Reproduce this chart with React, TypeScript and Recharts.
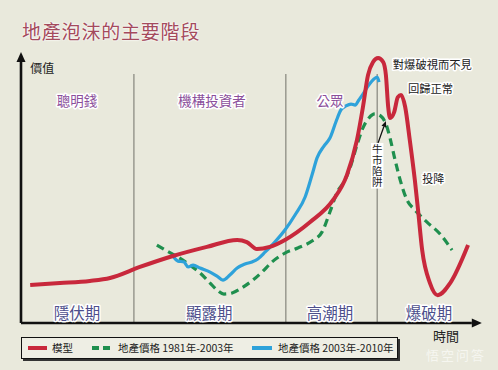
import React from 'react';
import { LineChart, Line, XAxis, YAxis, ReferenceLine, ReferenceDot } from 'recharts';

const FONT = "'Noto Sans CJK TC', 'Noto Sans CJK SC', sans-serif";
const BG = '#e9e9dc';
const RED = '#c8283c';
const GREEN = '#1f8f4e';
const BLUE = '#2ea2da';

// model curve (time 0-100, value 0-100)
const modelT = [2.0, 8.5, 15.0, 19.4, 25.9, 33.1, 40.5, 47.1, 49.2, 51.4, 54.2, 57.5, 63.0, 68.0, 71.0, 73.2, 74.5, 75.6, 76.7, 77.8, 78.9, 79.5, 80.0, 80.4, 81.3, 82.1, 82.8, 83.7, 84.7, 85.8, 86.5, 87.4, 89.1, 90.8, 93.5, 97.4];
const modelV = [14.2, 14.9, 15.7, 16.8, 20.9, 25.0, 28.4, 31.0, 30.2, 27.6, 28.4, 31.0, 37.7, 45.9, 55.2, 68.3, 80.6, 92.5, 97.4, 98.9, 97.4, 92.5, 80.6, 76.5, 78.7, 84.3, 85.1, 80.6, 68.3, 53.4, 42.2, 27.2, 14.9, 10.4, 14.9, 29.1];

// 地產價格 1981年-2003年
const greenT = [29.6, 31.8, 34.2, 36.8, 39.0, 41.2, 42.7, 44.2, 46.0, 48.1, 50.3, 52.5, 54.7, 57.5, 60.3, 63.4, 65.6, 67.3, 68.8, 70.6, 71.9, 73.2, 74.5, 75.8, 77.1, 78.4, 79.5, 80.4, 81.5, 82.6, 84.1, 85.8, 88.4, 91.3, 93.9];
const greenV = [29.1, 26.9, 24.6, 21.6, 18.7, 14.9, 12.3, 10.8, 11.2, 13.1, 15.7, 19.0, 22.8, 26.1, 28.0, 30.6, 34.0, 41.4, 48.5, 53.4, 59.0, 66.4, 72.8, 76.5, 78.0, 77.2, 74.3, 69.0, 60.8, 53.4, 45.9, 42.2, 37.7, 33.2, 27.2];

// 地產價格 2003年-2010年
const blueT = [33.1, 34.2, 35.5, 36.4, 37.5, 39.0, 41.2, 42.7, 44.0, 45.5, 47.1, 48.8, 50.3, 51.6, 53.2, 55.3, 57.5, 59.7, 61.9, 63.4, 64.5, 66.0, 67.3, 68.6, 69.7, 70.8, 71.9, 72.8, 73.6, 74.5, 75.6, 76.7, 77.6, 78.0];
const blueV = [25.0, 23.1, 22.8, 20.9, 21.6, 20.5, 19.0, 17.5, 16.0, 17.9, 20.5, 22.0, 22.8, 23.9, 26.5, 30.2, 34.7, 40.3, 47.0, 55.2, 61.6, 66.0, 69.0, 75.0, 79.5, 81.0, 81.7, 81.3, 83.2, 85.4, 88.4, 90.7, 91.8, 89.9];

// phases
const phaseBounds = [24.6, 57.7, 77.6];
const dividerTop = 92.9;
const topLabels = ['聰明錢', '機構投資者', '公眾'];
const topLabelT = [12.2, 41.6, 67.3];
const topLabelV = 83.2;
const bottomLabels = ['隱伏期', '顯露期', '高潮期', '爆破期'];
const bottomLabelT = [12.2, 41.0, 67.3, 88.9];
const bottomLabelV = 4.1;

const legendItems = [
  { name: '模型', color: RED, dash: false },
  { name: '地產價格 1981年-2003年', color: GREEN, dash: true },
  { name: '地產價格 2003年-2010年', color: BLUE, dash: false },
];

const toRows = (t: number[], v: number[]) => t.map((x, i) => ({ t: x, v: v[i] }));
const modelData = toRows(modelT, modelV);
const greenData = toRows(greenT, greenV);
const blueData = toRows(blueT, blueV);

const tag = (text: string, color: string, size: number, anchor: 'start' | 'middle' = 'middle', halo = true) =>
  (props: any) => {
    const vb = props.viewBox || {};
    const x = (vb.x ?? 0) + (vb.width ?? 0) / 2;
    const y = (vb.y ?? 0) + (vb.height ?? 0) / 2;
    return (
      <text x={x} y={y} textAnchor={anchor} dominantBaseline="central" fontSize={size} fill={color}
        stroke={halo ? '#ffffff' : 'none'} strokeWidth={3} strokeLinejoin="round" paintOrder="stroke" fontFamily={FONT}>
        {text}
      </text>
    );
  };

// vertical label, written top to bottom from the anchor point
const vertTag = (text: string, color: string, size: number) => (props: any) => {
  const vb = props.viewBox || {};
  const x = (vb.x ?? 0) + (vb.width ?? 0) / 2;
  const y = (vb.y ?? 0) + (vb.height ?? 0) / 2;
  return (
    <g fontFamily={FONT} fontSize={size}>
      <rect x={x - size / 2 - 1} y={y - 1} width={size + 2} height={text.length * (size + 0.4) + 2} fill="#ffffff" />
      <text x={x} y={y} textAnchor="start" fill={color} letterSpacing={0.4} style={{ writingMode: 'vertical-rl' }}>
        {text}
      </text>
    </g>
  );
};

const Arrow = (head: number, width: number, sw: number, color: string) => (p: any) => {
  const { x1, y1, x2, y2 } = p;
  const a = Math.atan2(y2 - y1, x2 - x1);
  const bx = x2 - head * Math.cos(a);
  const by = y2 - head * Math.sin(a);
  const nx = -Math.sin(a) * width / 2;
  const ny = Math.cos(a) * width / 2;
  return (
    <g>
      <line x1={x1} y1={y1} x2={bx} y2={by} stroke={color} strokeWidth={sw} />
      <polygon points={`${x2},${y2} ${bx + nx},${by + ny} ${bx - nx},${by - ny}`} fill={color} />
    </g>
  );
};

export default function App() {
  return (
    <div style={{ position: 'absolute', left: 0, top: 0, width: 498, height: 370, background: BG, overflow: 'hidden' }}>
      <div style={{ position: 'absolute', left: 22, top: 17, fontFamily: FONT, fontSize: 19, color: '#a44a5c', letterSpacing: 0.8, textShadow: '0 0 2px #fff, 0 0 2px #fff' }}>
        地產泡沫的主要階段
      </div>
      <LineChart width={498} height={370} data={modelData} margin={{ top: 55, right: 18, bottom: 47, left: 21 }} style={{ position: 'absolute', left: 0, top: 0 }}>
        <XAxis type="number" dataKey="t" domain={[0, 100]} hide allowDataOverflow />
        <YAxis type="number" dataKey="v" domain={[0, 100]} hide allowDataOverflow />
        {phaseBounds.map((b) => (
          <ReferenceLine key={b} segment={[{ x: b, y: 0 }, { x: b, y: dividerTop }]} stroke="#85857c" strokeWidth={1.2} ifOverflow="visible" />
        ))}
        <Line data={greenData} dataKey="v" type="monotone" stroke={GREEN} strokeWidth={3.2} strokeDasharray="8 5" dot={false} isAnimationActive={false} />
        <Line data={blueData} dataKey="v" type="monotone" stroke={BLUE} strokeWidth={3.2} dot={false} isAnimationActive={false} />
        <Line data={modelData} dataKey="v" type="monotone" stroke={RED} strokeWidth={4} dot={false} isAnimationActive={false} />
        <ReferenceLine segment={[{ x: 0, y: 0 }, { x: 0, y: 101.1 }]} ifOverflow="visible" shape={Arrow(10, 9, 2.6, '#111')} />
        <ReferenceLine segment={[{ x: 0, y: 0 }, { x: 100.4, y: 0 }]} ifOverflow="visible" shape={Arrow(10, 9, 2.6, '#111')} />
        <ReferenceLine segment={[{ x: 77.8, y: 67.2 }, { x: 79.5, y: 75.4 }]} ifOverflow="visible" shape={Arrow(6, 5, 1.3, '#111')} />
        {topLabels.map((s, i) => (
          <ReferenceDot key={s} x={topLabelT[i]} y={topLabelV} r={0} fill="none" stroke="none" ifOverflow="visible" label={tag(s, '#8b4f9b', 13.5)} />
        ))}
        {bottomLabels.map((s, i) => (
          <ReferenceDot key={s} x={bottomLabelT[i]} y={bottomLabelV} r={0} fill="none" stroke="none" ifOverflow="visible" label={tag(s, '#4d4f8c', 15.5)} />
        ))}
        <ReferenceDot x={2.0} y={95.5} r={0} fill="none" stroke="none" ifOverflow="visible" label={tag('價值', '#222', 12, 'start', false)} />
        <ReferenceDot x={92.6} y={-4.5} r={0} fill="none" stroke="none" ifOverflow="visible" label={tag('時間', '#222', 13, 'middle', false)} />
        <ReferenceDot x={81.0} y={96.6} r={0} fill="none" stroke="none" ifOverflow="visible" label={tag('對爆破視而不見', '#222', 11.3, 'start')} />
        <ReferenceDot x={84.3} y={87.7} r={0} fill="none" stroke="none" ifOverflow="visible" label={tag('回歸正常', '#222', 11.3, 'start')} />
        <ReferenceDot x={87.4} y={54.1} r={0} fill="none" stroke="none" ifOverflow="visible" label={tag('投降', '#222', 11, 'start')} />
        <ReferenceDot x={77.6} y={66.8} r={0} fill="none" stroke="none" ifOverflow="visible" label={vertTag('牛市陷阱', '#222', 10.5)} />
      </LineChart>
      <div style={{ position: 'absolute', left: 21, top: 337, width: 375, height: 20, border: '1.5px solid #111', boxShadow: '2px 2px 0 #333', background: '#eeeee4', fontFamily: FONT, fontSize: 10.5, color: '#222' }}>
        {legendItems.map((it, i) => {
          const left = [6, 70, 230][i];
          const lineW = [19, 18, 20][i];
          const textLeft = [30, 96, 256][i];
          return (
            <React.Fragment key={it.name}>
              <svg style={{ position: 'absolute', left, top: 7 }} width={lineW} height={6}>
                <line x1={0} y1={3} x2={lineW} y2={3} stroke={it.color} strokeWidth={4} strokeDasharray={it.dash ? '7 4' : undefined} />
              </svg>
              <span style={{ position: 'absolute', left: textLeft, top: 2, whiteSpace: 'nowrap', lineHeight: '15px' }}>{it.name}</span>
            </React.Fragment>
          );
        })}
      </div>
      <div style={{ position: 'absolute', left: 426, top: 349, fontFamily: FONT, fontSize: 13, lineHeight: '12px', letterSpacing: 2, color: 'rgba(255,255,255,0.6)', whiteSpace: 'nowrap' }}>
        悟空问答
      </div>
    </div>
  );
}
